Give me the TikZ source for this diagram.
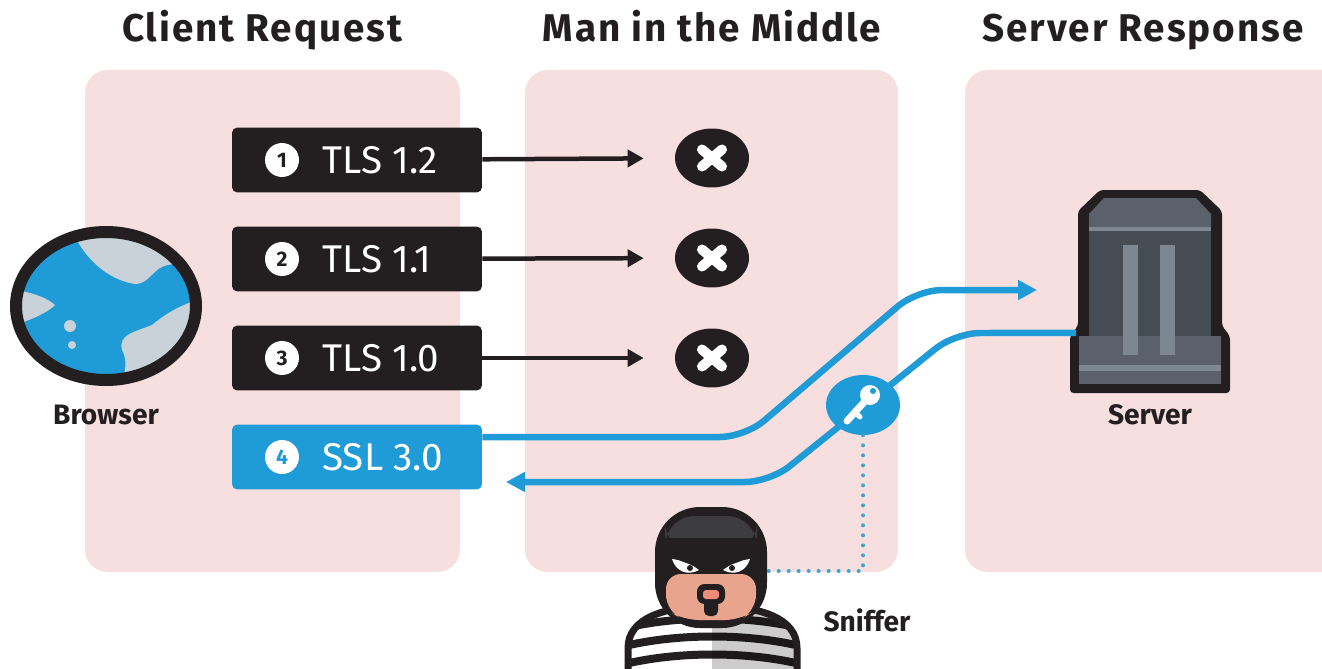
\documentclass[tikz,border=0pt]{standalone}
\usepackage{fontspec}
\setmainfont{Fira Sans}
\newfontfamily\headfont{Fira Sans}[LetterSpace=5]
\usetikzlibrary{arrows.meta, shapes.geometric}

\definecolor{panelpink}{HTML}{F7DFDF}
\definecolor{inkblack}{HTML}{231F20}
\definecolor{wireblue}{HTML}{1F9BD7}
\definecolor{dotblue}{HTML}{3AA6CF}
\definecolor{landgrey}{HTML}{C9D2D8}
\definecolor{serverdark}{HTML}{464C54}
\definecolor{servermid}{HTML}{5A616A}
\definecolor{serverlight}{HTML}{7D8792}
\definecolor{skin}{HTML}{E8A48D}
\definecolor{maskgrey}{HTML}{3C3B3D}

\begin{document}
\begin{tikzpicture}[x=0.02cm, y=-0.02cm,
    panel/.style = {fill=panelpink, rounded corners=0.45cm},
    heading/.style = {text=inkblack, anchor=base, font=\headfont\bfseries\fontsize{22}{26}\selectfont},
    proto/.style = {fill=inkblack, rounded corners=3pt, minimum width=5cm, minimum height=1.3cm, inner sep=0pt},
    badge/.style = {circle, fill=white, minimum size=0.68cm, inner sep=0pt, text=inkblack, font=\bfseries\fontsize{12}{12}\selectfont},
    tag/.style = {text=white, inner sep=0pt, anchor=west, font=\fontsize{22}{24}\selectfont},
    stopsign/.style = {ellipse, fill=inkblack, minimum width=1.48cm, minimum height=1.18cm, inner sep=0pt},
    cross/.style = {white, line width=0.2cm, line cap=round},
    caption/.style = {text=inkblack, font=\bfseries\fontsize{16}{19}\selectfont},
    refused/.style = {draw=inkblack, line width=0.09cm, -{Triangle[length=0.32cm, width=0.34cm]}, shorten >=0.62cm},
    wire/.style = {draw=wireblue, line width=0.13cm, rounded corners=0.5cm, -{Triangle[length=0.38cm, width=0.38cm]}},
    sniff/.style = {draw=dotblue, line width=0.08cm, line cap=round, dash pattern=on 0pt off 0.2cm}]

    \clip (0,0) rectangle (1322,669);

    % the three columns
    \fill[panel] (85,70) rectangle (460,572);
    \fill[panel] (525,70) rectangle (898,572);
    \fill[panel] (965,70) rectangle (1360,572);

    \node[heading] (hclient) at (262,42) {Client Request};
    \node[heading] (hmitm)   at (712,42) {Man in the Middle};
    \node[heading] (hserver) at (1143,42) {Server Response};

    % browser globe
    \begin{scope}
        \clip (106,306) ellipse [x radius=90, y radius=74];
        \fill[wireblue] (0,220) rectangle (210,390);
        \fill[landgrey] (70,225) .. controls (82,258) and (108,280) .. (135,284)
            .. controls (150,284) and (152,268) .. (168,265)
            .. controls (182,262) and (195,262) .. (210,262) -- (210,225) -- cycle;
        \fill[landgrey] (0,288) .. controls (25,290) and (45,296) .. (55,305)
            .. controls (45,315) and (25,322) .. (0,330) -- cycle;
        \fill[landgrey] (210,298) .. controls (190,300) and (170,310) .. (152,325)
            .. controls (135,332) and (118,334) .. (122,350)
            .. controls (130,365) and (122,380) .. (118,392) -- (210,392) -- cycle;
        \fill[wireblue!85!black, opacity=0.35] (0,330) .. controls (40,360) and (80,385) .. (110,392) -- (0,392) -- cycle;
        \fill[landgrey] (70,326) circle [radius=6];
        \fill[landgrey] (72,345) circle [radius=4];
    \end{scope}
    \draw[inkblack, line width=0.24cm] (106,306) ellipse [x radius=90, y radius=74];
    \node[caption] (browser) at (106,415) {Browser};

    % protocol offers
    \node[proto] (p1) at (357,160) {};
    \node[badge] (b1) at (282,160) {1};
    \node[tag] (t1) at (322,160) {TLS 1.2};

    \node[proto] (p2) at (357,259) {};
    \node[badge] (b2) at (282,259) {2};
    \node[tag] (t2) at (322,259) {TLS 1.1};

    \node[proto] (p3) at (357,358) {};
    \node[badge] (b3) at (282,358) {3};
    \node[tag] (t3) at (322,358) {TLS 1.0};

    \node[proto, fill=wireblue] (p4) at (357,457) {};
    \node[badge, text=wireblue] (b4) at (282,457) {4};
    \node[tag] (t4) at (322,457) {SSL 3.0};

    % blocked by the attacker
    \node[stopsign] (x1) at (712,158) {};
    \node[stopsign] (x2) at (712,258) {};
    \node[stopsign] (x3) at (712,358) {};
    \draw[cross] ([shift={(-0.2cm,0.17cm)}]x1.center) -- ([shift={(0.2cm,-0.17cm)}]x1.center);
    \draw[cross] ([shift={(-0.2cm,-0.17cm)}]x1.center) -- ([shift={(0.2cm,0.17cm)}]x1.center);
    \draw[cross] ([shift={(-0.2cm,0.17cm)}]x2.center) -- ([shift={(0.2cm,-0.17cm)}]x2.center);
    \draw[cross] ([shift={(-0.2cm,-0.17cm)}]x2.center) -- ([shift={(0.2cm,0.17cm)}]x2.center);
    \draw[cross] ([shift={(-0.2cm,0.17cm)}]x3.center) -- ([shift={(0.2cm,-0.17cm)}]x3.center);
    \draw[cross] ([shift={(-0.2cm,-0.17cm)}]x3.center) -- ([shift={(0.2cm,0.17cm)}]x3.center);

    \draw[refused] (p1) -- (x1);
    \draw[refused] (p2) -- (x2);
    \draw[refused] (p3) -- (x3);

    % server
    \node[minimum width=2.94cm, minimum height=3.94cm, inner sep=0pt] (server) at (1150,291) {};
    \fill[inkblack, rounded corners=2pt] (1100,190) -- (1200,190) -- (1222,211) -- (1222,326)
        -- (1230,336) -- (1230,393) -- (1070,393) -- (1070,336) -- (1078,326) -- (1078,211) -- cycle;
    \fill[servermid] (1104,198) -- (1196,198) -- (1211,214) -- (1211,228) -- (1089,228) -- (1089,214) -- cycle;
    \fill[serverdark] (1089,228) rectangle (1211,336);
    \fill[serverlight] (1089,227) rectangle (1211,231);
    \fill[servermid] (1079,336) rectangle (1221,384);
    \fill[serverlight] (1079,365) rectangle (1221,371);
    \fill[serverlight] (1123,245) rectangle (1138,355);
    \fill[serverlight] (1160,245) rectangle (1175,355);
    \node[caption] (servercap) at (1150,415) {Server};

    % downgraded connection
    \coordinate (uplink) at (1037,290);
    \coordinate (downlink) at (506,482);
    \draw[wire] ([yshift=0.4cm]p4.east) -- (745,437) -- (917,290) -- (uplink);
    \draw[wire] ([yshift=-0.84cm]server.west) -- (955,333) -- (770,482) -- (downlink);

    \node[ellipse, fill=wireblue, minimum width=1.48cm, minimum height=1.2cm, inner sep=0pt] (key) at (863,405) {};
    \fill[white] (870,395) circle [radius=10];
    \fill[wireblue] (873,391) circle [radius=3];
    \draw[white, line width=0.14cm, line cap=round] (866,400) -- (847,421);
    \draw[white, line width=0.1cm, line cap=round] (855,412) -- (860,417);

    % sniffer
    \coordinate (mask) at (767,571);
    \draw[sniff] (key.south) |- (mask);

    \begin{scope}
        \clip (628,669) -- (628,648) .. controls (628,618) and (665,606) .. (712,606)
            .. controls (760,606) and (797,618) .. (797,648) -- (797,669) -- cycle;
        \fill[white] (600,600) rectangle (820,680);
        \draw[inkblack, line width=0.16cm] (610,632) .. controls (670,614) and (755,614) .. (815,632);
        \draw[inkblack, line width=0.16cm] (610,650) .. controls (670,632) and (755,632) .. (815,650);
        \draw[inkblack, line width=0.16cm] (610,668) .. controls (670,650) and (755,650) .. (815,668);
        \fill[black, opacity=0.2] (712,600) rectangle (820,680);
    \end{scope}
    \draw[inkblack, line width=0.14cm] (628,669) -- (628,648) .. controls (628,618) and (665,606) .. (712,606)
        .. controls (760,606) and (797,618) .. (797,648) -- (797,669);

    \fill[inkblack, rounded corners=0.9cm] (655,628) -- (655,507) -- (767,507) -- (767,628) -- cycle;
    \fill[maskgrey, rounded corners=0.6cm] (665,552) -- (665,516) -- (757,516) -- (757,552) -- cycle;
    \fill[inkblack] (665,538) rectangle (757,553);
    \fill[skin, rounded corners=0.3cm] (666,574) -- (756,574) -- (756,610) -- (740,620) -- (684,620) -- (666,610) -- cycle;
    % eyes and brows
    \fill[white] (672,559) .. controls (686,561) .. (699,570) .. controls (688,576) and (676,572) .. cycle;
    \fill[white] (750,559) .. controls (736,561) .. (723,570) .. controls (734,576) and (746,572) .. cycle;
    \fill[inkblack] (690,568) circle [radius=3];
    \fill[inkblack] (732,568) circle [radius=3];
    \draw[inkblack, line width=0.08cm] (668,554) -- (700,566);
    \draw[inkblack, line width=0.08cm] (754,554) -- (722,566);
    % goatee
    \fill[inkblack, rounded corners=0.15cm] (697,584) rectangle (725,604);
    \fill[inkblack, rounded corners=0.1cm] (704,598) rectangle (718,616);
    \fill[skin!85!red, rounded corners=0.06cm] (703,590) rectangle (719,599);
    \node[caption] (sniffer) at (867,620) {Sniffer};
\end{tikzpicture}
\end{document}
